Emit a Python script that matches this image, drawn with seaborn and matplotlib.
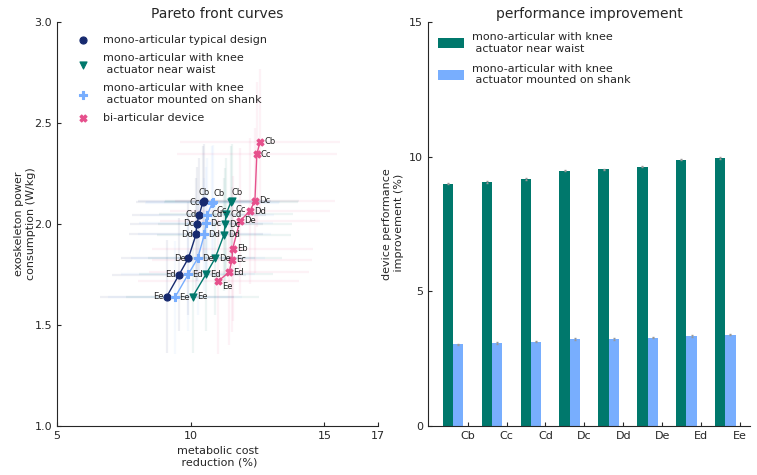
import numpy as np
import pandas as pd
import matplotlib
matplotlib.use('Agg')
import matplotlib.pyplot as plt
import seaborn as sns

# ---- data ----
# pareto front: metabolic cost reduction (%) vs power consumption (W/kg)
mono_labels = ['Cb', 'Cc', 'Cd', 'Dc', 'Dd', 'De', 'Ed', 'Ee']
mono_x = [10.51, 10.45, 10.32, 10.22, 10.20, 9.91, 9.56, 9.10]
mono_y = [2.115, 2.108, 2.045, 2.000, 1.949, 1.830, 1.748, 1.640]

waist_x = [11.53, 11.50, 11.32, 11.29, 11.24, 10.91, 10.57, 10.07]
waist_y = [2.115, 2.108, 2.048, 1.999, 1.946, 1.830, 1.751, 1.640]

shank_x = [10.84, 10.80, 10.62, 10.57, 10.51, 10.26, 9.91, 9.41]
shank_y = [2.110, 2.104, 2.045, 2.003, 1.949, 1.830, 1.752, 1.637]

bi_labels = ['Cb', 'Cc', 'Dc', 'Dd', 'De', 'Eb', 'Ec', 'Ed', 'Ee']
bi_x = [12.59, 12.47, 12.40, 12.21, 11.84, 11.57, 11.54, 11.44, 11.03]
bi_y = [2.407, 2.345, 2.115, 2.064, 2.015, 1.878, 1.823, 1.762, 1.718]

mono_xerr, mono_yerr = 2.5, 0.28
bi_xerr, bi_yerr = 3.0, 0.36

# bar chart: device performance improvement (%)
configs = ['Cb', 'Cc', 'Cd', 'Dc', 'Dd', 'De', 'Ed', 'Ee']
waist_impr = [8.99, 9.06, 9.17, 9.47, 9.54, 9.62, 9.88, 9.95]
shank_impr = [3.04, 3.08, 3.12, 3.23, 3.23, 3.27, 3.34, 3.38]
impr_err = [0.02] * 8

lbl_mono = 'mono-articular typical design'
lbl_waist = 'mono-articular with knee\n actuator near waist'
lbl_shank = 'mono-articular with knee\n actuator mounted on shank'
lbl_bi = 'bi-articular device'

c_mono = '#172a6f'
c_waist = '#00786c'
c_shank = '#78aefe'
c_bi = '#e6508c'

sns.set_style('ticks')
plt.rcParams['font.family'] = ['DejaVu Sans']
plt.rcParams['xtick.direction'] = 'in'
plt.rcParams['ytick.direction'] = 'in'

fig = plt.figure(figsize=(7.57, 4.75), dpi=100)
ax1 = fig.add_axes([0.0753, 0.1032, 0.4240, 0.8505])
ax2 = fig.add_axes([0.5654, 0.1032, 0.4254, 0.8505])

# ---- left: pareto fronts ----
series = [
    (mono_x, mono_y, mono_labels, c_mono, 'o', lbl_mono, mono_xerr, mono_yerr, 'left'),
    (waist_x, waist_y, mono_labels, c_waist, 'v', lbl_waist, mono_xerr, mono_yerr, 'right'),
    (shank_x, shank_y, mono_labels, c_shank, 'P', lbl_shank, mono_xerr, mono_yerr, 'right'),
    (bi_x, bi_y, bi_labels, c_bi, 'X', lbl_bi, bi_xerr, bi_yerr, 'right'),
]
for xs, ys, labs, col, mk, lab, xe, ye, side in series:
    ax1.errorbar(xs, ys, xerr=xe, yerr=ye, fmt='none', ecolor=col,
                 alpha=0.07, elinewidth=1.6, zorder=1)
    ax1.plot(xs, ys, color=col, lw=1.0, zorder=2)
    sns.scatterplot(x=xs, y=ys, color=col, marker=mk, s=26, linewidth=0.8,
                    edgecolor=col, label=lab, ax=ax1, zorder=3)
    for i, (x, y, t) in enumerate(zip(xs, ys, labs)):
        if t == 'Cb' and side == 'left':
            off, ha, va = (0, 3), 'center', 'bottom'
        elif t == 'Cb' and col != c_bi:
            off, ha, va = (0, 3), 'left', 'bottom'
        elif t == 'Cc' and col in (c_waist, c_shank):
            off, ha, va = (3, -2), 'left', 'top'
        elif t == 'Ee' and col == c_bi:
            off, ha, va = (3, -1), 'left', 'top'
        elif side == 'left':
            off, ha, va = (-2, 0), 'right', 'center'
        else:
            off, ha, va = (3, 0), 'left', 'center'
        ax1.annotate(t, (x, y), xytext=off, textcoords='offset points',
                     ha=ha, va=va, fontsize=6, color='#222222', zorder=4)

ax1.set_xlim(5, 17)
ax1.set_ylim(1.0, 3.0)
ax1.set_xticks([5, 10, 15, 17])
ax1.set_yticks([1.0, 1.5, 2.0, 2.5, 3.0])
ax1.set_yticklabels(['1.0', '1.5', '2.0', '2.5', '3.0'])
ax1.set_xlabel('metabolic cost\n reduction (%)', fontsize=8)
ax1.set_ylabel('exoskeleton power\nconsumption (W/kg)', fontsize=8, labelpad=-1)
ax1.set_title('Pareto front curves', fontsize=10, pad=3)
ax1.tick_params(labelsize=8, length=3)
sns.despine(ax=ax1)
ax1.legend(loc='upper left', frameon=False, fontsize=8, handletextpad=0.8,
           borderaxespad=0.4, labelspacing=0.75, bbox_to_anchor=(0.02, 0.99))

# ---- right: bars ----
df = pd.DataFrame({
    'config': configs * 2,
    'improvement': waist_impr + shank_impr,
    'device': [lbl_waist] * len(configs) + [lbl_shank] * len(configs),
})
sns.barplot(data=df, x='config', y='improvement', hue='device',
            palette=[c_waist, c_shank], width=0.53, errorbar=None,
            saturation=1, linewidth=0, ax=ax2)
for bars, vals in zip(ax2.containers, [waist_impr, shank_impr]):
    cx = [b.get_x() + b.get_width() / 2 for b in bars]
    ax2.errorbar(cx, vals, yerr=impr_err, fmt='none', ecolor='#999999',
                 elinewidth=0.5, capsize=1)
pos = np.arange(len(configs)) + 0.375
ax2.set_xticks(pos)
ax2.set_xticklabels(configs)
ax2.set_xlim(-0.645, 7.635)
ax2.set_ylim(0, 15)
ax2.set_yticks([0, 5, 10, 15])
ax2.set_xlabel('')
ax2.set_ylabel('device performance\n improvement (%)', fontsize=8)
ax2.set_title('performance improvement', fontsize=10, pad=3)
ax2.tick_params(labelsize=8, length=3)
sns.despine(ax=ax2)
ax2.legend(loc='upper left', frameon=False, fontsize=8, title=None,
           handlelength=2.3, handleheight=1.0, labelspacing=0.9,
           bbox_to_anchor=(0.0, 1.0))

fig.savefig('out.png', dpi=100)
